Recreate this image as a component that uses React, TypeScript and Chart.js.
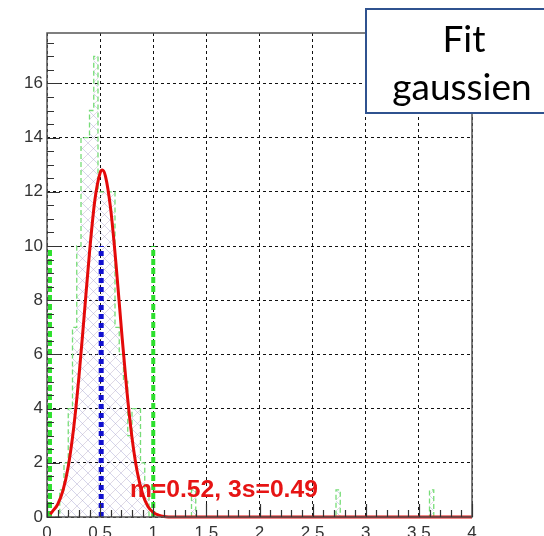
import React, { useEffect, useRef } from 'react';
import { Chart, registerables } from 'chart.js';

Chart.register(...registerables);

// ---- data ----
const binWidth = 0.04;
const histEdges = [0.16, 0.20, 0.24, 0.28, 0.32, 0.36, 0.40, 0.44, 0.48, 0.52, 0.56, 0.60, 0.64, 0.68, 0.72, 0.76, 0.80, 0.84, 0.88, 0.92, 0.96, 1.40, 2.76, 3.64];
const histCounts = [1, 2, 4, 7, 10, 14, 14, 15, 17, 12, 12, 12, 12, 7, 6, 5, 3, 4, 4, 2, 1, 1, 1, 1];

const fitX = [0.03, 0.05, 0.10, 0.15, 0.20, 0.25, 0.30, 0.35, 0.40, 0.45, 0.50, 0.52, 0.55, 0.60, 0.65, 0.70, 0.75, 0.80, 0.85, 0.90, 0.95, 1.00, 1.05, 1.10, 1.20, 4.00];
const fitY = [0.10, 0.20, 0.46, 0.97, 1.86, 3.25, 5.15, 7.43, 9.76, 11.68, 12.70, 12.80, 12.58, 11.34, 9.31, 6.95, 4.73, 2.93, 1.65, 0.85, 0.39, 0.17, 0.07, 0.02, 0.0, 0.0];

const meanX = 0.51;
const lowLimitX = 0.028;
const highLimitX = 1.0;
const markerHeight = 10;

const xMin = 0;
const xMax = 4;
const yMin = 0;
const yMax = 17.86;
const xTickStep = 0.5;
const yTickStep = 2;

const fitLabel = 'm=0.52, 3s=0.49';
const boxLines = ['Fit', 'gaussien'];

function buildHistPoints() {
  const n = Math.round((xMax - xMin) / binWidth);
  const counts = new Array(n).fill(0);
  histEdges.forEach((e, i) => {
    const idx = Math.round((e - xMin) / binWidth);
    if (idx >= 0 && idx < n) counts[idx] = histCounts[i];
  });
  const pts = counts.map((c, i) => ({ x: xMin + i * binWidth, y: c }));
  pts.push({ x: xMax, y: 0 });
  return pts;
}

function makeHatch(): CanvasPattern | string {
  const c = document.createElement('canvas');
  c.width = 11;
  c.height = 11;
  const g = c.getContext('2d');
  if (!g) return 'rgba(170,170,210,0.25)';
  g.lineWidth = 0.8;
  g.strokeStyle = 'rgba(150,150,205,0.5)';
  g.beginPath();
  g.moveTo(0, 0); g.lineTo(11, 11);
  g.stroke();
  g.strokeStyle = 'rgba(175,160,190,0.5)';
  g.beginPath();
  g.moveTo(11, 0); g.lineTo(0, 11);
  g.stroke();
  const p = g.createPattern(c, 'repeat');
  return p || 'rgba(170,170,210,0.25)';
}

const overlayPlugin = {
  id: 'overlayPlugin',
  afterDatasetsDraw(chart: any) {
    const { ctx, scales } = chart;
    const x = scales.x;
    const y = scales.y;
    ctx.save();
    ctx.font = 'bold 23px "Liberation Sans", Arial, sans-serif';
    ctx.fillStyle = 'rgb(230,20,20)';
    ctx.textBaseline = 'alphabetic';
    ctx.textAlign = 'left';
    const w = ctx.measureText(fitLabel).width;
    const targetW = (x.getPixelForValue(2.55) - x.getPixelForValue(0.78));
    const sx = targetW / w;
    const px = x.getPixelForValue(0.78);
    const py = y.getPixelForValue(0.72);
    ctx.translate(px, py);
    ctx.scale(sx, 1);
    ctx.fillText(fitLabel, 0, 0);
    ctx.restore();
  },
  afterDraw(chart: any) {
    const { ctx, chartArea, scales } = chart;
    const { left, right, top, bottom } = chartArea;
    const x = scales.x;
    const y = scales.y;
    ctx.save();
    // frame
    ctx.strokeStyle = '#555';
    ctx.lineWidth = 1.5;
    ctx.strokeRect(left, top, right - left, bottom - top);
    // tick marks
    ctx.strokeStyle = '#333';
    ctx.lineWidth = 1.2;
    ctx.beginPath();
    for (let i = 0; i * 0.5 <= yMax; i++) {
      const v = i * 0.5;
      const py = Math.round(y.getPixelForValue(v)) + 0.5;
      const len = i % 4 === 0 ? 13 : 7;
      ctx.moveTo(left, py);
      ctx.lineTo(left + len, py);
    }
    for (let i = 0; i <= 40; i++) {
      const v = i / 10;
      const px = Math.round(x.getPixelForValue(v)) + 0.5;
      const len = i % 5 === 0 ? 13 : 7;
      ctx.moveTo(px, bottom);
      ctx.lineTo(px, bottom - len);
    }
    ctx.stroke();

    // legend box
    const bx = 366, by = 9, bw = 210, bh = 104;
    ctx.fillStyle = '#ffffff';
    ctx.fillRect(bx, by, bw, bh);
    ctx.strokeStyle = '#2F528F';
    ctx.lineWidth = 2;
    ctx.strokeRect(bx, by, bw, bh);
    ctx.fillStyle = '#000';
    ctx.font = '37px Lato, "Open Sans", sans-serif';
    ctx.textAlign = 'center';
    ctx.textBaseline = 'alphabetic';
    ctx.fillText(boxLines[0], 464, 52);
    ctx.fillText(boxLines[1], 462, 100);
    ctx.restore();
  },
};

export default function App() {
  const canvasRef = useRef<HTMLCanvasElement | null>(null);

  useEffect(() => {
    const canvas = canvasRef.current;
    if (!canvas) return;
    const hatch = makeHatch();
    const fitPoints = fitX.map((v, i) => ({ x: v, y: fitY[i] }));
    const vline = (xv: number) => [{ x: xv, y: 0 }, { x: xv, y: markerHeight }];

    const chart = new Chart(canvas, {
      type: 'line',
      data: {
        datasets: [
          {
            label: 'fit',
            data: fitPoints,
            borderColor: 'rgb(228,10,10)',
            borderWidth: 3,
            pointRadius: 0,
            cubicInterpolationMode: 'monotone',
            fill: false,
            clip: false,
          } as any,
          {
            label: 'mean',
            data: vline(meanX),
            borderColor: '#1010d0',
            borderWidth: 5,
            borderDash: [5, 4],
            pointRadius: 0,
            fill: false,
            clip: false,
          } as any,
          {
            label: 'low',
            data: vline(lowLimitX),
            borderColor: '#2ee02e',
            borderWidth: 4,
            borderDash: [6, 3],
            pointRadius: 0,
            fill: false,
            clip: false,
          } as any,
          {
            label: 'high',
            data: vline(highLimitX),
            borderColor: '#2ee02e',
            borderWidth: 4,
            borderDash: [6, 3],
            pointRadius: 0,
            fill: false,
            clip: false,
          } as any,
          {
            label: 'hist',
            data: buildHistPoints(),
            stepped: 'after',
            borderColor: '#77dd77',
            borderWidth: 1.3,
            borderDash: [5, 3],
            pointRadius: 0,
            fill: 'origin',
            backgroundColor: hatch,
          } as any,
        ],
      },
      options: {
        responsive: false,
        animation: false,
        events: [],
        layout: { padding: { left: 0, top: 33, right: 72, bottom: 0 } },
        plugins: {
          legend: { display: false },
          tooltip: { enabled: false },
          title: { display: false },
        },
        scales: {
          x: {
            type: 'linear',
            min: xMin,
            max: xMax,
            afterFit: (s: any) => { s.height = 19; },
            ticks: {
              stepSize: xTickStep,
              padding: 6,
              color: '#333',
              font: { family: '"Liberation Sans", Arial, sans-serif', size: 17 },
              maxRotation: 0,
              autoSkip: false,
              callback: (v: any) => String(v),
            },
            grid: {
              color: '#111',
              lineWidth: 1,
              drawTicks: false,
            },
            border: { display: false, dash: [3, 3] },
          },
          y: {
            type: 'linear',
            min: yMin,
            max: yMax,
            afterFit: (s: any) => { s.width = 47; },
            afterBuildTicks: (s: any) => {
              s.ticks = s.ticks.filter((t: any) => Math.abs(t.value / yTickStep - Math.round(t.value / yTickStep)) < 1e-6);
            },
            ticks: {
              stepSize: yTickStep,
              padding: 4,
              color: '#333',
              font: { family: '"Liberation Sans", Arial, sans-serif', size: 17 },
              callback: (v: any) => String(v),
            },
            grid: {
              color: '#111',
              lineWidth: 1,
              drawTicks: false,
            },
            border: { display: false, dash: [3, 3] },
          },
        },
      } as any,
      plugins: [overlayPlugin],
    });
    return () => chart.destroy();
  }, []);

  return (
    <div style={{ position: 'fixed', left: 0, top: 0, width: 544, height: 536, background: '#fff' }}>
      <canvas ref={canvasRef} width={544} height={536} style={{ display: 'block' }} />
    </div>
  );
}
